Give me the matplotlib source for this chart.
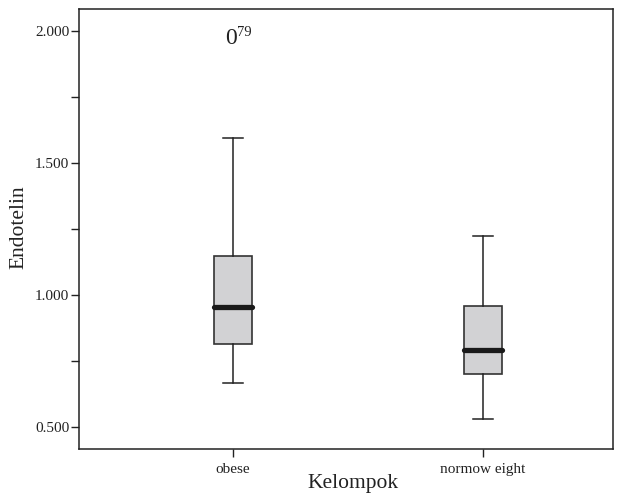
import numpy as np
import matplotlib.pyplot as plt

groups = ["obese", "normow eight"]
whislo = [0.666, 0.528]
q1 = [0.814, 0.700]
med = [0.954, 0.791]
q3 = [1.146, 0.958]
whishi = [1.595, 1.223]
outlier_val = 1.9715
outlier_label = "79"

plt.rcParams['font.family'] = ['Liberation Serif', 'DejaVu Serif']

fig = plt.figure(figsize=(6.23, 4.93), dpi=100)
ax = fig.add_axes([0.1268, 0.0893, 0.8572, 0.8924])

stats = []
for i in range(len(groups)):
    stats.append({"whislo": whislo[i], "q1": q1[i], "med": med[i], "q3": q3[i],
                  "whishi": whishi[i], "fliers": [], "label": groups[i]})

pos = [0, 1]
ax.bxp(stats, positions=pos, widths=0.155, patch_artist=True, showfliers=False,
       boxprops=dict(facecolor="#d2d2d4", edgecolor="#333333", linewidth=1.2),
       medianprops=dict(color="#1a1a1a", linewidth=3.8, solid_capstyle="round"),
       whiskerprops=dict(color="#222222", linewidth=1.1),
       capprops=dict(color="#222222", linewidth=1.1),
       capwidths=0.08)

# outlier shown as "0" with case number
ax.annotate("0", (pos[0], outlier_val), xytext=(-1.5, 0), textcoords="offset points",
            ha="center", va="center", fontsize=17, color="#222222")
ax.annotate(outlier_label, (pos[0], outlier_val), xytext=(2.8, 4.7), textcoords="offset points",
            ha="left", va="center", fontsize=10.5, color="#222222")

ax.set_xlim(-0.616, 1.52)
ax.set_ylim(0.4153, 2.0836)
ax.set_yticks([0.5, 1.0, 1.5, 2.0])
ax.set_yticklabels(["0.500", "1.000", "1.500", "2.000"])
ax.set_yticks([0.75, 1.25, 1.75], minor=True)
ax.set_xticks(pos)
ax.set_xticklabels(groups)

ax.tick_params(axis="y", which="both", length=6, width=1, labelsize=11, colors="#222222", pad=1)
ax.tick_params(axis="x", length=6, width=1, labelsize=11, colors="#222222", pad=4)
for s in ax.spines.values():
    s.set_linewidth(1.1)
    s.set_color("#222222")

fig.text(19 / 623, 1 - 227.5 / 493, "Endotelin", rotation=90, ha="center", va="center",
         fontsize=15.5, color="#222222")
fig.text(353 / 623, 5 / 493, "Kelompok", ha="center", va="baseline",
         fontsize=15.5, color="#222222")

fig.savefig("out.png", dpi=100)
